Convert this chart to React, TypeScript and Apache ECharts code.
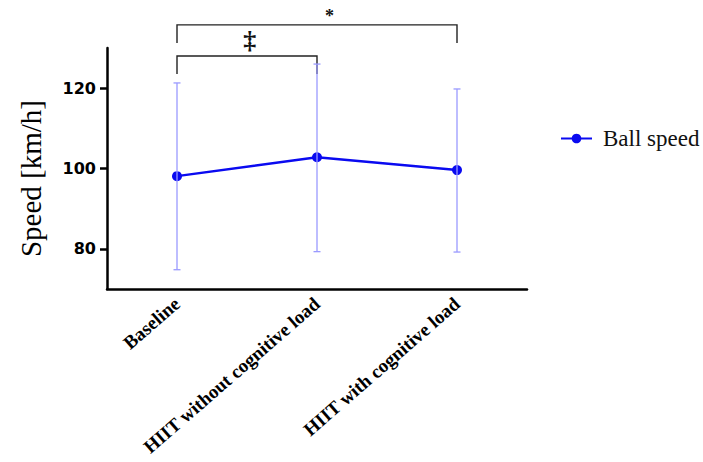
import React, { useEffect, useRef } from "react";
import * as echarts from "echarts";

const categories = ["Baseline", "HIIT without cognitive load", "HIIT with cognitive load"];
const meanSpeed = [98.1, 102.8, 99.6];
const errLow = [74.8, 79.3, 79.2];
const errHigh = [121.3, 126.0, 119.8];
const yTicks = [80, 100, 120];
// brackets: [fromIndex, toIndex, topValue, dropValue, labelValue, label]
const brackets: [number, number, number, number, number, string][] = [
  [0, 2, 135.75, 131.25, 137.9, "*"],
  [0, 1, 128.0, 123.5, 131.9, "‡"],
];
const labelFrac = [0.545, 0.52];

export default function App() {
  const ref = useRef<HTMLDivElement>(null);
  useEffect(() => {
    if (!ref.current) return;
    const chart = echarts.init(ref.current, null, { renderer: "svg" });
    const errData = categories.map((_, i) => [i, errLow[i], errHigh[i]]);
    chart.setOption({
      animation: false,
      backgroundColor: "#ffffff",
      grid: {
        left: 107,
        right: 176,
        top: 48,
        bottom: 173,
        containLabel: false,
        outerBoundsMode: "none",
      },
      legend: {
        left: 555,
        top: 122,
        itemWidth: 31,
        itemHeight: 12,
        data: [{ name: "Ball speed" }],
        textStyle: {
          fontFamily: "Liberation Serif",
          fontSize: 23,
          color: "#111",
          padding: [0, 0, 0, 6],
        },
      },
      xAxis: {
        type: "category",
        data: categories,
        boundaryGap: true,
        axisLine: { lineStyle: { color: "#000", width: 2.5 } },
        axisTick: { alignWithLabel: true, length: 7, lineStyle: { color: "#000", width: 2.5 } },
        axisLabel: {
          rotate: 41,
          margin: 12,
          interval: 0,
          fontFamily: "Liberation Serif",
          fontWeight: "bold",
          fontSize: 19,
          color: "#000",
        },
      },
      yAxis: {
        type: "value",
        min: 70,
        max: 130,
        name: "Speed [km/h]",
        nameLocation: "middle",
        nameGap: 62,
        nameTextStyle: {
          fontFamily: "Liberation Serif",
          fontSize: 29,
          color: "#000",
          padding: [0, 20, 0, 0],
        },
        splitLine: { show: false },
        axisLine: { show: true, lineStyle: { color: "#000", width: 2.5 } },
        axisTick: { show: true, length: 7, customValues: yTicks, lineStyle: { color: "#000", width: 2.5 } },
        axisLabel: {
          customValues: yTicks,
          margin: 11,
          fontFamily: "DejaVu Sans",
          fontWeight: "bold",
          fontSize: 16,
          color: "#000",
        },
      },
      series: [
        {
          name: "Ball speed",
          type: "line",
          data: meanSpeed,
          color: "#0a0af0",
          symbol: "circle",
          symbolSize: 10,
          lineStyle: { width: 2.5, color: "#0a0af0" },
          itemStyle: { color: "#0a0af0" },
          z: 2,
        },
        {
          name: "err",
          type: "custom",
          data: errData,
          z: 3,
          silent: true,
          renderItem: (params: any, api: any) => {
            const x = api.value(0);
            const lo = api.coord([x, api.value(1)]);
            const hi = api.coord([x, api.value(2)]);
            const w = 3.5;
            const style = { stroke: "#9a9aff", lineWidth: 1.3, fill: "none" };
            return {
              type: "group",
              children: [
                { type: "line", shape: { x1: lo[0], y1: lo[1], x2: hi[0], y2: hi[1] }, style },
                { type: "line", shape: { x1: lo[0] - w, y1: lo[1], x2: lo[0] + w, y2: lo[1] }, style },
                { type: "line", shape: { x1: hi[0] - w, y1: hi[1], x2: hi[0] + w, y2: hi[1] }, style },
              ],
            };
          },
        },
        {
          name: "brackets",
          type: "custom",
          data: brackets,
          clip: false,
          silent: true,
          renderItem: (params: any, api: any) => {
            const a = api.value(0);
            const b = api.value(1);
            const top = api.value(2);
            const drop = api.value(3);
            const lab = api.value(4);
            const text = brackets[params.dataIndex][5];
            const pA = api.coord([a, top]);
            const pB = api.coord([b, top]);
            const dA = api.coord([a, drop]);
            const tPos = api.coord([a, lab]);
            const tx = pA[0] + (pB[0] - pA[0]) * labelFrac[params.dataIndex];
            return {
              type: "group",
              children: [
                {
                  type: "polyline",
                  shape: { points: [[dA[0], dA[1]], [pA[0], pA[1]], [pB[0], pB[1]], [pB[0], dA[1]]] },
                  style: { stroke: "#222", lineWidth: 1.4, fill: "none" },
                },
                {
                  type: "text",
                  x: tx,
                  y: tPos[1],
                  style: {
                    text,
                    fontFamily: "Liberation Serif",
                    fontWeight: "bold",
                    fontSize: text === "*" ? 18 : 26,
                    fill: "#111",
                    align: "center",
                    verticalAlign: "middle",
                  },
                },
              ],
            };
          },
        },
      ],
    });
    return () => chart.dispose();
  }, []);
  return <div ref={ref} style={{ width: 703, height: 462, position: "absolute", left: 0, top: 0 }} />;
}
